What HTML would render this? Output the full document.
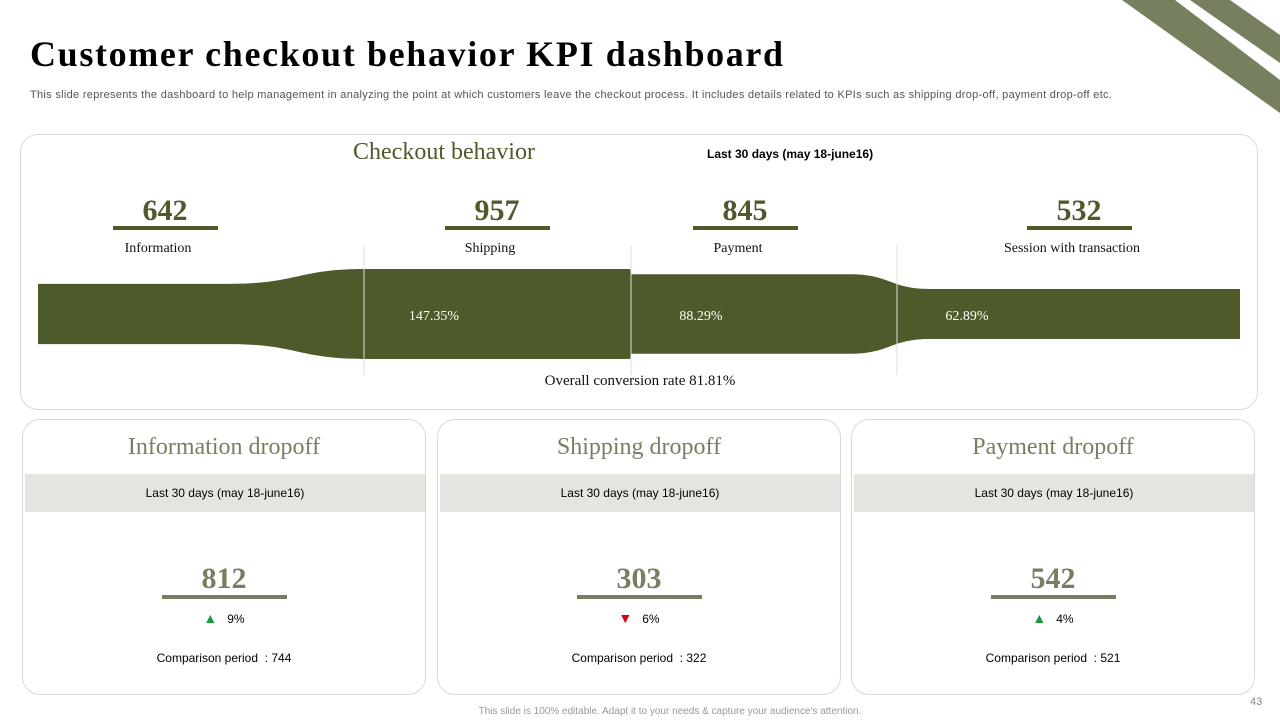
<!DOCTYPE html>
<html><head><meta charset="utf-8">
<style>
body{margin:0;width:1280px;height:720px;background:#fff;position:relative;overflow:hidden;font-family:"Liberation Sans",sans-serif}
.abs{position:absolute}
.serif{font-family:"Liberation Serif",serif}
.card{position:absolute;border:1px solid #d9d9d9;border-radius:18px;background:#fff}
.big{font-family:"Liberation Serif",serif;font-weight:bold;font-size:30px;color:#4f5a2b;text-align:center}
.big span{display:inline-block;border-bottom:4px solid #4f5a2b;padding:0 30px;line-height:30px}
.lab{font-family:"Liberation Serif",serif;font-size:14px;color:#111;text-align:center}
.dt{font-family:"Liberation Serif",serif;font-size:24px;color:#777f63;text-align:center}
.band{position:absolute;left:2px;right:0;top:54px;height:38px;background:#e3e6df;font-size:12px;line-height:38px;text-align:center;color:#000}
.num{position:absolute;left:0;right:0;top:142px;text-align:center;font-family:"Liberation Serif",serif;font-weight:bold;font-size:30px;color:#777f63}
.num span{display:inline-block;border-bottom:4px solid #777f63;padding:0 40px;line-height:32px}
.chg{position:absolute;left:0;right:0;top:190px;font-size:12px;text-align:center}
.cmp{position:absolute;left:0;right:0;top:231px;font-size:12px;text-align:center}
</style></head><body>
<svg class="abs" style="left:0;top:0" width="1280" height="720">
<polygon points="1122,0 1175,0 1280,80 1280,113" fill="#76805f"/>
<polygon points="1190,0 1230,0 1280,35 1280,63" fill="#76805f"/>
</svg>
<div class="abs serif" style="left:30px;top:33px;font-size:36px;letter-spacing:1.65px;font-weight:bold;color:#000">Customer checkout behavior KPI dashboard</div>
<div class="abs" style="left:30px;top:89px;font-size:11px;letter-spacing:0.3px;color:#555;white-space:nowrap">This slide represents the dashboard to help management in analyzing the point at which customers leave the checkout process. It includes details related to KPIs such as shipping drop-off, payment drop-off etc.</div>

<div class="card" style="left:20px;top:134px;width:1236px;height:274px"></div>
<div class="abs serif" style="left:353px;top:139px;font-size:24px;color:#4f5a2b">Checkout behavior</div>
<div class="abs" style="left:707px;top:147px;font-size:12px;font-weight:bold">Last 30 days (may 18-june16)</div>
<svg id="funnel" class="abs" style="left:0;top:0" width="1280" height="420"></svg>
<div class="abs lab" style="left:440px;width:400px;top:373px;font-size:15px">Overall conversion rate 81.81%</div>

<div class="card" style="left:22px;top:419px;width:402px;height:274px">
<div class="dt" style="margin-top:14px">Information dropoff</div><div class="band">Last 30 days (may 18-june16)</div>
<div class="num"><span>812</span></div>
<div class="chg"><span style="color:#1a9a3a;font-size:14px">▲</span>&nbsp;&nbsp; 9%</div>
<div class="cmp">Comparison period&nbsp; : 744</div></div>
<div class="card" style="left:437px;top:419px;width:402px;height:274px">
<div class="dt" style="margin-top:14px">Shipping dropoff</div><div class="band">Last 30 days (may 18-june16)</div>
<div class="num"><span>303</span></div>
<div class="chg"><span style="color:#e00000;font-size:14px">▼</span>&nbsp;&nbsp; 6%</div>
<div class="cmp">Comparison period&nbsp; : 322</div></div>
<div class="card" style="left:851px;top:419px;width:402px;height:274px">
<div class="dt" style="margin-top:14px">Payment dropoff</div><div class="band">Last 30 days (may 18-june16)</div>
<div class="num"><span>542</span></div>
<div class="chg"><span style="color:#1a9a3a;font-size:14px">▲</span>&nbsp;&nbsp; 4%</div>
<div class="cmp">Comparison period&nbsp; : 521</div></div>

<div class="abs" style="left:0;width:1340px;text-align:center;top:706px;font-size:10px;color:#999">This slide is 100% editable. Adapt it to your needs &amp; capture your audience's attention.</div>
<div class="abs" style="left:1250px;top:696px;font-size:11px;color:#888">43</div>

<div id="kpis"></div>
<script>
const stages=["Information","Shipping","Payment","Session with transaction"];
const values=[642,957,845,532];
const rates=["147.35%","88.29%","62.89%"];
const svgF=document.getElementById('funnel');
const NS='http://www.w3.org/2000/svg';
const cy=314, k=0.094;
const segs=[[38,230],[365,630],[631,850],[930,1240]];
const halfH=v=>v*k/2;
function edge(sign){
 let s='';
 segs.forEach((g,i)=>{
  const y=cy+sign*halfH(values[i]);
  if(i===0){s+='M'+g[0]+','+y+' L'+g[1]+','+y;}
  else{const px=segs[i-1][1],m=(px+g[0])/2;s+=' C'+m+','+(cy+sign*halfH(values[i-1]))+' '+m+','+y+' '+g[0]+','+y+' L'+g[1]+','+y;}
 });
 return s;
}
let d=edge(-1);
for(let i=segs.length-1;i>=0;i--){
 const y=cy+halfH(values[i]);
 if(i===segs.length-1){d+=' L'+segs[i][1]+','+y+' L'+segs[i][0]+','+y;}
 else{const nx=segs[i+1][0],m=(segs[i][1]+nx)/2;d+=' C'+m+','+(cy+halfH(values[i+1]))+' '+m+','+y+' '+segs[i][1]+','+y+' L'+segs[i][0]+','+y;}
}
d+='Z';
const fp=document.createElementNS(NS,'path');
fp.setAttribute('d',d);fp.setAttribute('fill','#4d5a2a');


svgF.appendChild(fp);
[364,631,897].forEach((x,i)=>{
 const l=document.createElementNS(NS,'line');
 l.setAttribute('x1',x);l.setAttribute('x2',x);l.setAttribute('y1',245);l.setAttribute('y2',375);
 l.setAttribute('stroke','#ddd');
 
 
 svgF.appendChild(l);
 const t=document.createElementNS(NS,'text');
 t.setAttribute('x',x+70);t.setAttribute('y',320);t.setAttribute('text-anchor','middle');
 t.setAttribute('fill','#fff');t.setAttribute('font-size','14');t.setAttribute('font-family','Liberation Serif, serif');
 t.textContent=rates[i];
 
 
 svgF.appendChild(t);
});
const cx=[165,497,745,1079];
const kp=document.getElementById('kpis');
stages.forEach((s,i)=>{
 const n=document.createElement('div');n.className='abs big';
 n.style.left=(cx[i]-100)+'px';n.style.width='200px';n.style.top='194px';
 n.innerHTML='<span>'+values[i]+'</span>';
 
 
 kp.appendChild(n);
 const l=document.createElement('div');l.className='abs lab';
 l.style.left=(cx[i]-7-120)+'px';l.style.width='240px';l.style.top='241px';
 l.textContent=s;
 
 
 kp.appendChild(l);
});
</script>
</body></html>
